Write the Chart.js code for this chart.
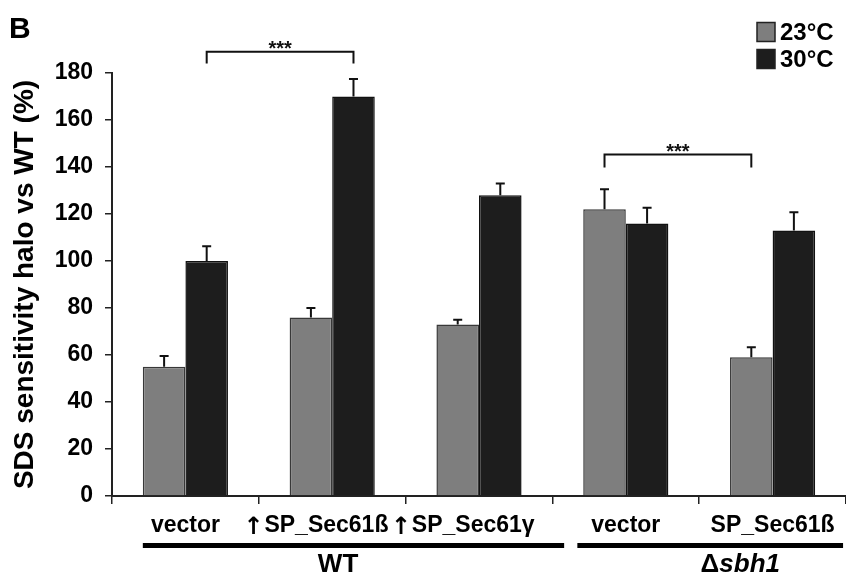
<!DOCTYPE html>
<html><head><meta charset="utf-8">
<script src="https://cdn.jsdelivr.net/npm/chart.js@4.4.1/dist/chart.umd.min.js"></script>
<style>html,body{margin:0;padding:0;background:#fff}#wrap{width:846px;height:582px;position:relative}</style>
</head><body><div id="wrap"><canvas id="c"></canvas></div>
<script>
// ---- data ----
const categories = ['vector', '\u2191SP_Sec61\u00df', '\u2191SP_Sec61\u03b3', 'vector', 'SP_Sec61\u00df'];
const seriesNames = ['23\u00b0C', '30\u00b0C'];
const values23 = [55, 76, 73, 122, 59];
const errors23 = [4.6, 4, 2, 8.5, 4.3];
const values30 = [100, 170, 128, 116, 113];
const errors30 = [6.3, 7.5, 5, 6.7, 7.7];
const yMin = 0, yMax = 180, yStep = 20;
const groupNames = ['WT', '\u0394sbh1'];
const groupRanges = [[0, 2], [3, 4]];
// significance brackets: [category, series] start/end, bracket level, tick end level
const bracketStart = [[0, 1], [3, 0]];
const bracketEnd = [[1, 1], [4, 0]];
const bracketLevel = [189, 145.3];
const bracketDrop = [184, 139.8];
const bracketText = ['***', '***'];
const panelLabel = 'B';
const yTitle = 'SDS sensitivity halo vs WT (%)';

const colors = ['#7e7e7e', '#1d1d1d'];
const borders = ['#383838', '#111111'];
const ARROW = '\u2191';
const PAD = '\u2002';
const FONT = '"Liberation Sans", Arial, sans-serif';
const TICK_SIZE = 23;

function tickText(i) {
  return categories[i].startsWith(ARROW) ? categories[i].slice(1) + PAD : categories[i];
}

const extras = {
  id: 'extras',
  afterDatasetsDraw(chart) {
    const ctx = chart.ctx;
    const y = chart.scales.y;
    const errs = [errors23, errors30];
    const vals = [values23, values30];
    ctx.save();
    ctx.strokeStyle = '#111';
    ctx.lineWidth = 2;
    for (let d = 0; d < 2; d++) {
      const meta = chart.getDatasetMeta(d);
      meta.data.forEach((el, i) => {
        const top = y.getPixelForValue(vals[d][i] + errs[d][i]);
        ctx.beginPath();
        ctx.moveTo(el.x, el.y);
        ctx.lineTo(el.x, top);
        ctx.moveTo(el.x - 4.5, top);
        ctx.lineTo(el.x + 4.5, top);
        ctx.stroke();
      });
    }
    ctx.restore();
  },
  afterDraw(chart) {
    const ctx = chart.ctx;
    const x = chart.scales.x, y = chart.scales.y;
    const cw = x.getPixelForValue(1) - x.getPixelForValue(0);
    ctx.save();
    // arrows in front of up-regulated labels
    ctx.fillStyle = '#000';
    categories.forEach((c, i) => {
      if (c.startsWith(ARROW)) {
        ctx.font = 'bold ' + TICK_SIZE + 'px ' + FONT;
        const w = ctx.measureText(tickText(i)).width;
        const left = x.getPixelForValue(i) - w / 2;
        ctx.font = 'bold ' + (TICK_SIZE + 1) + 'px "DejaVu Sans", sans-serif';
        ctx.textAlign = 'right';
        ctx.textBaseline = 'alphabetic';
        ctx.fillText(ARROW, left - 1, 534);
      }
    });
    // brackets
    ctx.strokeStyle = '#111';
    ctx.lineWidth = 2;
    ctx.fillStyle = '#111';
    for (let b = 0; b < bracketStart.length; b++) {
      const x1 = chart.getDatasetMeta(bracketStart[b][1]).data[bracketStart[b][0]].x;
      const x2 = chart.getDatasetMeta(bracketEnd[b][1]).data[bracketEnd[b][0]].x;
      const yl = y.getPixelForValue(bracketLevel[b]);
      const yd = y.getPixelForValue(bracketDrop[b]);
      ctx.beginPath();
      ctx.moveTo(x1, yd); ctx.lineTo(x1, yl); ctx.lineTo(x2, yl); ctx.lineTo(x2, yd);
      ctx.stroke();
      ctx.font = 'bold 20px ' + FONT;
      ctx.textAlign = 'center';
      ctx.textBaseline = 'alphabetic';
      ctx.fillText(bracketText[b], (x1 + x2) / 2, yl + 3);
    }
    // group lines
    ctx.lineWidth = 5;
    ctx.strokeStyle = '#000';
    const lineY = 545.5;
    const g0a = x.getPixelForValue(groupRanges[0][0]) - 0.29 * cw;
    const g0b = x.getPixelForValue(groupRanges[0][1]) + 0.58 * cw;
    const g1a = x.getPixelForValue(groupRanges[1][0]) - 0.33 * cw;
    const g1b = x.getPixelForValue(groupRanges[1][1]) + 0.48 * cw;
    ctx.beginPath();
    ctx.moveTo(g0a, lineY); ctx.lineTo(g0b, lineY);
    ctx.moveTo(g1a, lineY); ctx.lineTo(g1b, lineY);
    ctx.stroke();
    // group labels
    ctx.fillStyle = '#000';
    ctx.textBaseline = 'middle';
    ctx.textAlign = 'center';
    ctx.font = 'bold 26px ' + FONT;
    ctx.fillText(groupNames[0], x.getPixelForValue(1) + 0.04 * cw, 565);
    const delta = groupNames[1].charAt(0), rest = groupNames[1].slice(1);
    const fUp = 'bold 26px ' + FONT;
    const fIt = 'italic bold 26px ' + FONT;
    ctx.font = fUp; const wD = ctx.measureText(delta).width;
    ctx.font = fIt; const wR = ctx.measureText(rest).width;
    const cx = x.getPixelForValue(4) - 0.22 * cw;
    const sx = cx - (wD + wR) / 2;
    ctx.textAlign = 'left';
    ctx.font = fUp; ctx.fillText(delta, sx, 565);
    ctx.font = fIt; ctx.fillText(rest, sx + wD, 565);
    // panel label
    ctx.font = 'bold 30px ' + FONT;
    ctx.textBaseline = 'alphabetic';
    ctx.fillText(panelLabel, 9, 38);
    // legend
    ctx.font = 'bold 24px ' + FONT;
    ctx.textBaseline = 'middle';
    const ly = [32, 59];
    for (let d = 0; d < 2; d++) {
      ctx.fillStyle = colors[d];
      ctx.fillRect(757, ly[d] - 9.5, 18, 19);
      ctx.lineWidth = 1.5;
      ctx.strokeStyle = '#222';
      ctx.strokeRect(757, ly[d] - 9.5, 18, 19);
      ctx.fillStyle = '#000';
      ctx.fillText(seriesNames[d], 780, ly[d] + 1);
    }
    ctx.restore();
  }
};

new Chart(document.getElementById('c'), {
  type: 'bar',
  data: {
    labels: categories,
    datasets: [
      { label: seriesNames[0], data: values23, backgroundColor: colors[0], borderColor: borders[0], borderWidth: 1.5 },
      { label: seriesNames[1], data: values30, backgroundColor: colors[1], borderColor: borders[1], borderWidth: 1.5 }
    ]
  },
  options: {
    responsive: true,
    maintainAspectRatio: false,
    animation: false,
    layout: { padding: { left: 0, top: 73, right: 0, bottom: 0 } },
    plugins: { legend: { display: false }, tooltip: { enabled: false } },
    datasets: { bar: { categoryPercentage: 0.58, barPercentage: 1.0 } },
    scales: {
      x: {
        offset: true,
        grid: { offset: true, drawOnChartArea: false, drawTicks: true, tickLength: 8, color: '#222', lineWidth: 1.5 },
        border: { display: true, color: '#222', width: 2 },
        ticks: {
          color: '#000', font: { family: FONT, size: TICK_SIZE, weight: 'bold' }, padding: 8, maxRotation: 0, autoSkip: false,
          callback: (v, i) => tickText(i)
        },
        afterFit(s) { s.height = 86; }
      },
      y: {
        min: yMin, max: yMax,
        grid: { drawOnChartArea: false, drawTicks: true, tickLength: 7, color: '#222', lineWidth: 1.5 },
        border: { display: true, color: '#222', width: 2 },
        ticks: { stepSize: yStep, color: '#000', font: { family: FONT, size: 23, weight: 'bold' }, padding: 12 },
        title: { display: true, text: yTitle, color: '#000', font: { family: FONT, size: 28, weight: 'bold' }, padding: { top: 8, bottom: 0 } },
        afterFit(s) { s.width = 112; }
      }
    }
  },
  plugins: [extras]
});
</script>
</body></html>
